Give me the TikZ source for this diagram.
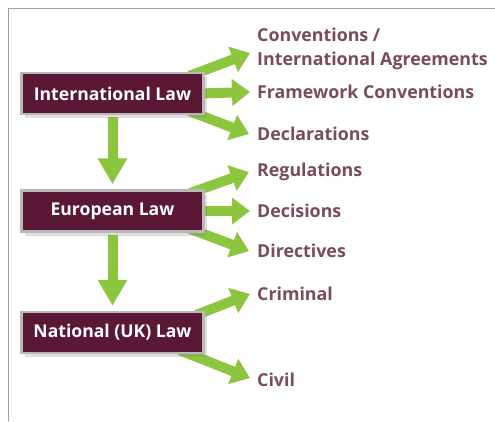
\documentclass[tikz,border=0pt]{standalone}
\usepackage{fontspec}
\setmainfont{Open Sans}
\usetikzlibrary{arrows.meta,shadows,backgrounds}
\definecolor{lawbox}{HTML}{5A1836}
\definecolor{lawtext}{HTML}{7A4A5E}
\definecolor{lawgreen}{HTML}{8CC63F}
\begin{document}
\begin{tikzpicture}[x=1pt,y=-1pt,
		lawnode/.style = {rectangle, fill=lawbox, draw=gray!55, line width=2.5pt, text=white,
			minimum width=182pt, minimum height=41pt, font=\fontsize{17.6}{20}\bfseries,
			drop shadow={shadow xshift=3pt, shadow yshift=-4pt, opacity=0.25}},
		kind/.style = {anchor=west, inner sep=0pt, text=lawtext, align=left, font=\fontsize{17.8}{24}\bfseries},
		branch/.style = {draw=lawgreen, line width=10pt, -{Triangle[width=26pt,length=18pt]}},
		downarrow/.style = {draw=lawgreen, line width=10pt, shorten <=2pt, shorten >=5pt,
			-{Triangle[width=28pt,length=26pt]}}]
	\useasboundingbox (0,0) rectangle (495,421);
	\draw[gray!75, line width=1pt] (8,421) -- (8,8) -- (495,8);
	\node (intl) [lawnode] at (112.5,93.5) {International Law};
	\node (euro) [lawnode] at (112.5,211) {European Law};
	\node (natl) [lawnode] at (112.5,332.5) {National (UK) Law};
	\node (conv) [kind] at (257,49) {Conventions /\\International Agreements};
	\node (frame) [kind] at (257,92) {Framework Conventions};
	\node (decl) [kind] at (257,134) {Declarations};
	\node (regs) [kind] at (257,172) {Regulations};
	\node (decs) [kind] at (257,211) {Decisions};
	\node (dirs) [kind] at (257,251) {Directives};
	\node (crim) [kind] at (257,294) {Criminal};
	\node (civ) [kind] at (257,380) {Civil};
	\begin{scope}[on background layer]
		\draw[branch] ([shift={(-15pt,-4pt)}]intl.north east) -- ([shift={(-7pt,-4pt)}]conv.west);
		\draw[branch] ([xshift=-5pt]intl.east) -- ([xshift=-7pt]frame.west);
		\draw[branch] ([shift={(-15pt,4pt)}]intl.south east) -- ([xshift=-8pt]decl.west);
		\draw[branch] ([shift={(-15pt,-4pt)}]euro.north east) -- ([xshift=-8pt]regs.west);
		\draw[branch] ([xshift=-5pt]euro.east) -- ([xshift=-7pt]decs.west);
		\draw[branch] ([shift={(-15pt,4pt)}]euro.south east) -- ([xshift=-8pt]dirs.west);
		\draw[branch] ([shift={(-8pt,-4pt)}]natl.north east) -- ([xshift=-7pt]crim.west);
		\draw[branch] ([shift={(-25pt,4pt)}]natl.south east) -- ([shift={(-7pt,2pt)}]civ.west);
		\draw[downarrow] (intl) -- (euro);
		\draw[downarrow] (euro) -- (natl);
	\end{scope}
\end{tikzpicture}
\end{document}
